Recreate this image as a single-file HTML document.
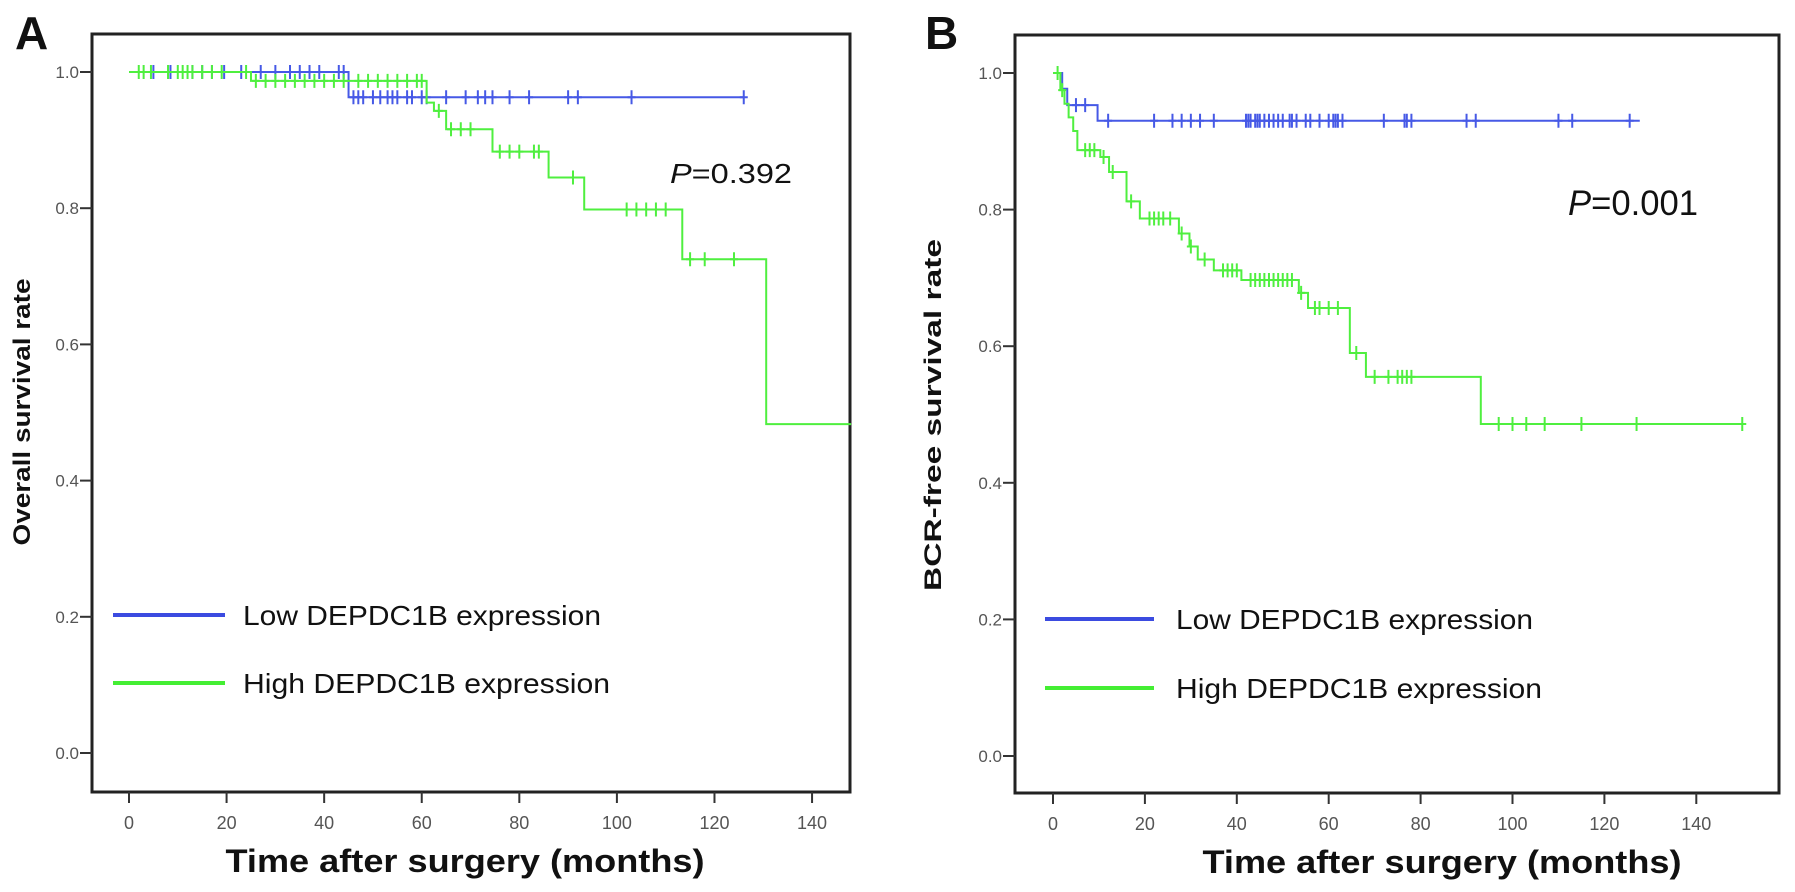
<!DOCTYPE html>
<html><head><meta charset="utf-8"><style>
html,body{margin:0;padding:0;background:#fff;}
svg{display:block;}
text{font-family:"Liberation Sans",Arial,sans-serif;}
</style></head><body>
<svg id="fig" width="1795" height="892" viewBox="0 0 1795 892" xmlns="http://www.w3.org/2000/svg">
  <rect width="1795" height="892" fill="#fff"/>
  <text x="15" y="49" font-size="46" font-weight="bold" fill="#111">A</text>
  <text x="925" y="49" font-size="46" font-weight="bold" fill="#111">B</text>
  <g id="panelA"></g>
  <g id="panelB"></g>
</svg>
<script>
// ---- Panel A data (Overall survival) ----
const aLowT=[0,45];
const aLowS=[1.0,0.963];
const aLowEnd=126;
const aLowCens=[5,8.5,13,15,17,19.5,23,27,30,33,35,37,39,43,44,46,47,48,50,51.5,53,54,55,57,58,60,61,65,69,71.5,73,74.5,78,82,90,92,103,126];
const aHighT=[0,25,61,62.5,65,74.5,86,93.3,113.4,130.6];
const aHighS=[1.0,0.987,0.955,0.943,0.916,0.883,0.845,0.798,0.725,0.483];
const aHighEnd=148;
const aHighCens=[2,3,4.5,8,10,11,12,13,15,17,19,24,26,28,30,32,34,36,38,40,42,44,47,49,51,53,55,57,59,60,63.5,66,68,70,76,78,80,83,84,91,102,104,106,108,110,115,118,124];
// ---- Panel B data (BCR-free survival) ----
const bLowT=[0,2,3.1,9.7];
const bLowS=[1.0,0.977,0.953,0.93];
const bLowEnd=127.7;
const bLowCens=[5,7,12,22,26,28,30,32,35,42,42.5,43,44,44.5,45,46,47,48,49,50,51.5,52,53,55,56,58,60,61,61.5,62,63,72,76.5,77,78,90,92,110,113,125.5];
const bHighT=[0,1.6,2.5,3.4,4.4,5.3,10.3,12.2,16,18.9,27.4,29.7,31.5,35,41,53.5,55.5,64.6,68.1,93.1];
const bHighS=[1.0,0.975,0.955,0.935,0.915,0.887,0.877,0.855,0.812,0.787,0.765,0.746,0.727,0.711,0.697,0.678,0.656,0.59,0.555,0.486];
const bHighEnd=150.6;
const bHighCens=[1,2,7,8,9,11,13,17,21,22,23,24,25.5,28,30,33,37,38,39,40,43,44,45,46,47,48,49,50,51,52,54,57,58,60,62,66,70,73,75,76,77,78,97,100,103,107,115,127,150];
// ---- ticks ----
const xTicks=[0,20,40,60,80,100,120,140];
const yTicks=[0.0,0.2,0.4,0.6,0.8,1.0];
const yTickLabels=["0.0","0.2","0.4","0.6","0.8","1.0"];

const NS="http://www.w3.org/2000/svg";
function mk(tag,attrs,parent){const e=document.createElementNS(NS,tag);for(const k in attrs)e.setAttribute(k,attrs[k]);parent.appendChild(e);return e;}
function survAt(T,S,t){let v=S[0];for(let i=0;i<T.length;i++){if(T[i]<=t)v=S[i];}return v;}

function drawPanel(g,cfg){
  const X=cfg.x,Y=cfg.y;
  // box
  const box=mk('rect',{x:cfg.left,y:cfg.top,width:cfg.right-cfg.left,height:cfg.bottom-cfg.top,fill:'none',stroke:'#222','stroke-width':3},g);
  
  
  // y ticks
  yTicks.forEach((v,i)=>{
    const yy=Y(v);
    const t=mk('line',{x1:cfg.left-12,x2:cfg.left,y1:yy,y2:yy,stroke:'#333','stroke-width':2},g);
    
    
    const l=mk('text',{x:cfg.left-13,y:yy+6,'font-size':17,fill:'#555','text-anchor':'end'},g);
    l.textContent=yTickLabels[i];
    
    
  });
  xTicks.forEach(v=>{
    const xx=X(v);
    const t=mk('line',{x1:xx,x2:xx,y1:cfg.bottom,y2:cfg.bottom+11,stroke:'#333','stroke-width':2},g);
    
    
    const l=mk('text',{x:xx,y:cfg.bottom+37,'font-size':18,fill:'#555','text-anchor':'middle'},g);
    l.textContent=String(v);
    
    
  });
  // axis titles
  const xt=mk('text',{x:cfg.xTitleX,y:cfg.bottom+80,'font-size':32,'font-weight':'bold',fill:'#111','text-anchor':'middle',textLength:479,lengthAdjust:'spacingAndGlyphs'},g);
  xt.textContent='Time after surgery (months)';
  
  
  const yt=mk('text',{x:0,y:0,'font-size':24,'font-weight':'bold',fill:'#111','text-anchor':'middle',transform:`translate(${cfg.yTitleX},${cfg.yTitleY}) rotate(-90)`,textLength:cfg.yTitleLen,lengthAdjust:'spacingAndGlyphs'},g);
  yt.textContent=cfg.yTitle;
  
  
  // series
  cfg.series.forEach(s=>{
    let d=`M${X(s.T[0])},${Y(s.S[0])}`;
    for(let i=1;i<s.T.length;i++){d+=` H${X(s.T[i])} V${Y(s.S[i])}`;}
    d+=` H${X(s.end)}`;
    const p=mk('path',{d:d,fill:'none',stroke:s.color,'stroke-width':2},g);
    
    
    s.cens.forEach(c=>{
      const cx=X(c),cy=Y(survAt(s.T,s.S,c));
      const m=mk('path',{d:`M${cx},${cy-7} V${cy+7} M${cx-4},${cy} H${cx+4}`,stroke:s.color,'stroke-width':2,fill:'none'},g);
      
      
    });
  });
  // legend
  cfg.legend.forEach(L=>{
    const ln=mk('line',{x1:cfg.legX1,x2:cfg.legX2,y1:L.y,y2:L.y,stroke:L.color,'stroke-width':4},g);
    
    
    const tx=mk('text',{x:cfg.legTextX,y:L.y+10,'font-size':28,fill:'#111',textLength:L.len,lengthAdjust:'spacingAndGlyphs'},g);
    tx.textContent=L.label;
    
    
  });
  // p value
  const pv=mk('text',{x:cfg.pX,y:cfg.pY,'font-size':cfg.pSize,fill:'#111',textLength:cfg.pLen,lengthAdjust:'spacingAndGlyphs'},g);
  const ti=mk('tspan',{'font-style':'italic'},pv); ti.textContent='P';
  const tr=mk('tspan',{},pv); tr.textContent=cfg.pText;
  
  
}

const BLUE='#4659e6', GREEN='#4fef3f';
drawPanel(document.getElementById('panelA'),{
  left:92,right:850,top:34,bottom:792,
  x:t=>129+t*4.879, y:v=>753-v*681,
  xTitleX:465, yTitleX:30, yTitleY:412, yTitleLen:267, yTitle:'Overall survival rate',
  series:[
    {name:'low-expression',T:aLowT,S:aLowS,end:aLowEnd,cens:aLowCens,color:BLUE},
    {name:'high-expression',T:aHighT,S:aHighS,end:aHighEnd,cens:aHighCens,color:GREEN}
  ],
  legX1:113,legX2:225,legTextX:243,
  legend:[{y:615,color:'#3b4be0',label:'Low DEPDC1B expression',len:358},{y:683,color:'#44ee33',label:'High DEPDC1B expression',len:367}],
  pX:670,pY:183,pSize:28,pLen:122,pText:'=0.392'
});
drawPanel(document.getElementById('panelB'),{
  left:1015,right:1779,top:35,bottom:793,
  x:t=>1053+t*4.595, y:v=>756-v*683,
  xTitleX:1442, yTitleX:941, yTitleY:415, yTitleLen:352, yTitle:'BCR-free survival rate',
  series:[
    {name:'low-expression',T:bLowT,S:bLowS,end:bLowEnd,cens:bLowCens,color:BLUE},
    {name:'high-expression',T:bHighT,S:bHighS,end:bHighEnd,cens:bHighCens,color:GREEN}
  ],
  legX1:1045,legX2:1154,legTextX:1176,
  legend:[{y:619,color:'#3b4be0',label:'Low DEPDC1B expression',len:357},{y:688,color:'#44ee33',label:'High DEPDC1B expression',len:366}],
  pX:1568,pY:215,pSize:35,pLen:130,pText:'=0.001'
});
</script>
</body></html>
